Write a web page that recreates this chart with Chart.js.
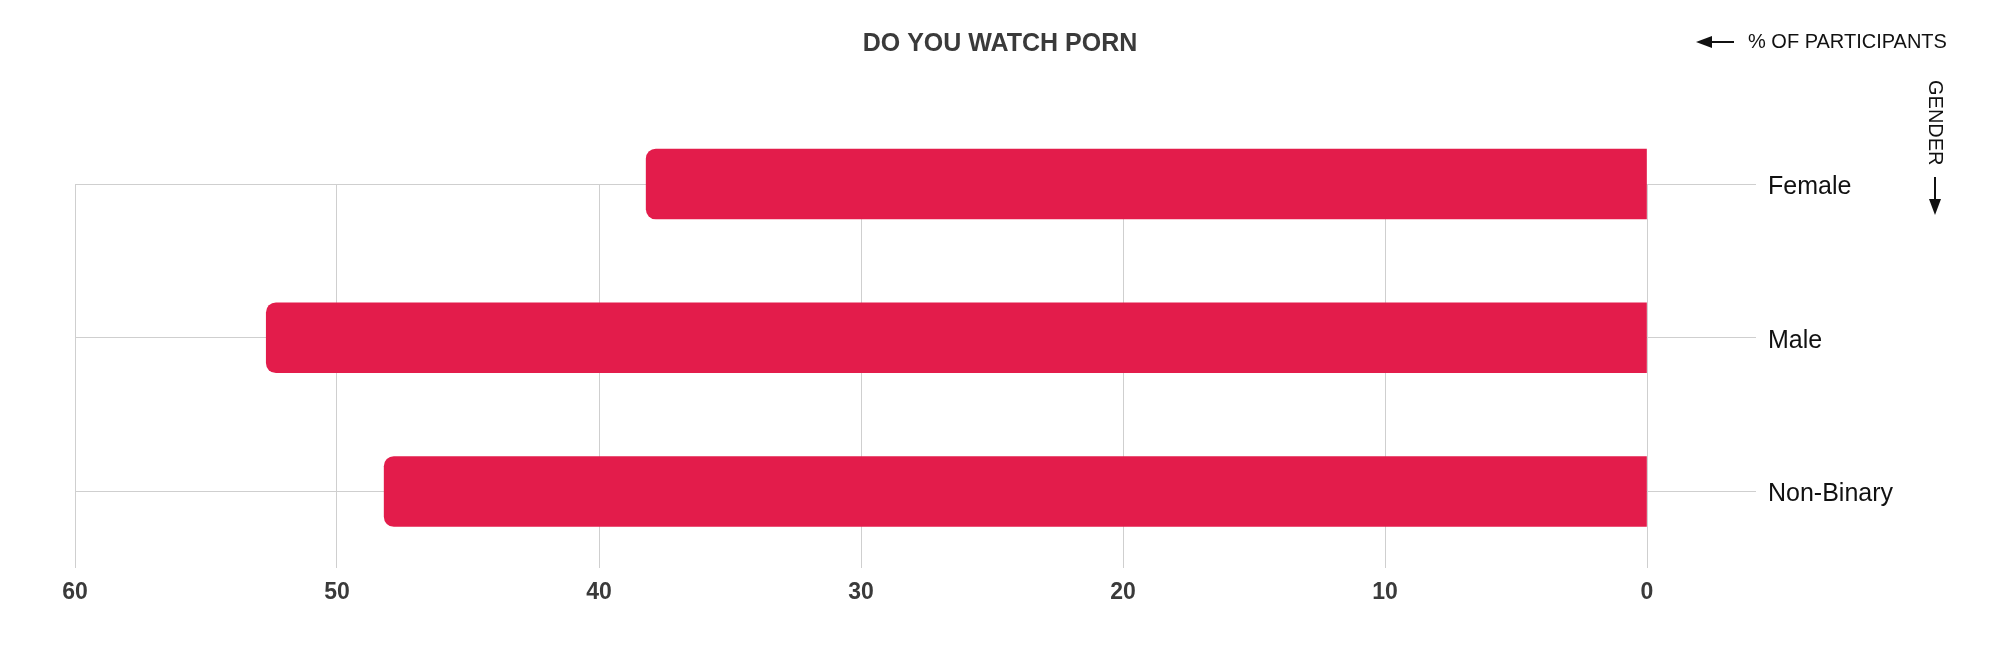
<!DOCTYPE html>
<html>
<head>
<meta charset="utf-8">
<title>Do you watch porn</title>
<script src="https://cdn.jsdelivr.net/npm/chart.js@4"></script>
<style>
  html, body { margin: 0; padding: 0; background: #ffffff; }
  #wrap { width: 2000px; height: 662px; }
</style>
</head>
<body>
<div id="wrap"><canvas id="pornChart" width="2000" height="662"></canvas></div>
<script>
// Chart data (percent of participants answering yes)
const genders = ['Female', 'Male', 'Non-Binary'];
const percentValues = [38.2, 52.7, 48.2];
const xTicks = [0, 10, 20, 30, 40, 50, 60];

const BAR_RED = '#e31c4b';
const GRID_GREY = '#cfcfcf';

/**
 * Axis hints drawn in the free corner: "% OF PARTICIPANTS" and vertical "GENDER"
 */
const axisHints = {
    id: 'axisHints',
    afterDraw(chart) {
        const ctx = chart.ctx;
        ctx.save();
        ctx.fillStyle = '#111111';
        ctx.strokeStyle = '#111111';
        ctx.lineWidth = 2;
        ctx.font = "20px 'Liberation Sans', Arial, sans-serif";
        ctx.textBaseline = 'middle';
        ctx.textAlign = 'left';
        ctx.fillText('% OF PARTICIPANTS', 1748, 42);

        // left arrow
        ctx.beginPath();
        ctx.moveTo(1734, 42);
        ctx.lineTo(1708, 42);
        ctx.stroke();
        ctx.beginPath();
        ctx.moveTo(1696, 42);
        ctx.lineTo(1712, 36);
        ctx.lineTo(1712, 48);
        ctx.closePath();
        ctx.fill();

        // vertical GENDER label
        ctx.save();
        ctx.translate(1935, 80);
        ctx.rotate(Math.PI / 2);
        ctx.textAlign = 'left';
        ctx.fillText('GENDER', 0, 0);
        ctx.restore();

        // down arrow
        ctx.beginPath();
        ctx.moveTo(1935, 177);
        ctx.lineTo(1935, 203);
        ctx.stroke();
        ctx.beginPath();
        ctx.moveTo(1935, 215);
        ctx.lineTo(1929, 199);
        ctx.lineTo(1941, 199);
        ctx.closePath();
        ctx.fill();
        ctx.restore();
    }
};

function initPornChart() {
    const ctx = document.getElementById('pornChart');
    if (!ctx) return;

    new Chart(ctx, {
        type: 'bar',
        data: {
            datasets: [{
                label: 'Watch porn',
                data: percentValues.map((v, i) => ({ x: v, y: i })),
                backgroundColor: BAR_RED,
                borderWidth: 0,
                borderRadius: 10,
                barThickness: 70,
                clip: false
            }]
        },
        options: {
            indexAxis: 'y',
            responsive: false,
            animation: false,
            layout: { padding: { left: 75, right: 75, top: 0, bottom: 46 } },
            plugins: {
                legend: { display: false },
                tooltip: { enabled: false },
                title: {
                    display: true,
                    text: 'DO YOU WATCH PORN',
                    color: '#3a3a3a',
                    font: { family: "'Liberation Sans', Arial, sans-serif", size: 25, weight: 'bold', lineHeight: 1.2 },
                    padding: { top: 29, bottom: 125 }
                }
            },
            scales: {
                x: {
                    type: 'linear',
                    reverse: true,
                    min: 0,
                    max: 60,
                    afterBuildTicks: (scale) => { scale.ticks = xTicks.map(v => ({ value: v })); },
                    grid: { color: GRID_GREY, lineWidth: 1, drawTicks: false },
                    border: { display: false },
                    ticks: {
                        padding: 10,
                        color: '#3a3a3a',
                        font: { family: "'Liberation Sans', Arial, sans-serif", size: 23, weight: 'bold' }
                    }
                },
                y: {
                    type: 'linear',
                    position: 'right',
                    reverse: true,
                    offset: false,
                    min: 0,
                    max: 2.5,
                    afterBuildTicks: (scale) => { scale.ticks = genders.map((g, i) => ({ value: i })); },
                    afterFit: (scale) => { scale.width = 278; },
                    grid: { color: GRID_GREY, lineWidth: 1, offset: false, drawTicks: true, tickLength: 109 },
                    border: { display: false },
                    ticks: {
                        padding: 12,
                        labelOffset: 3,
                        color: '#111111',
                        font: { family: "'Liberation Sans', Arial, sans-serif", size: 25 },
                        callback: (v) => genders[v]
                    }
                }
            }
        },
        plugins: [axisHints]
    });
}

initPornChart();
</script>
</body>
</html>
